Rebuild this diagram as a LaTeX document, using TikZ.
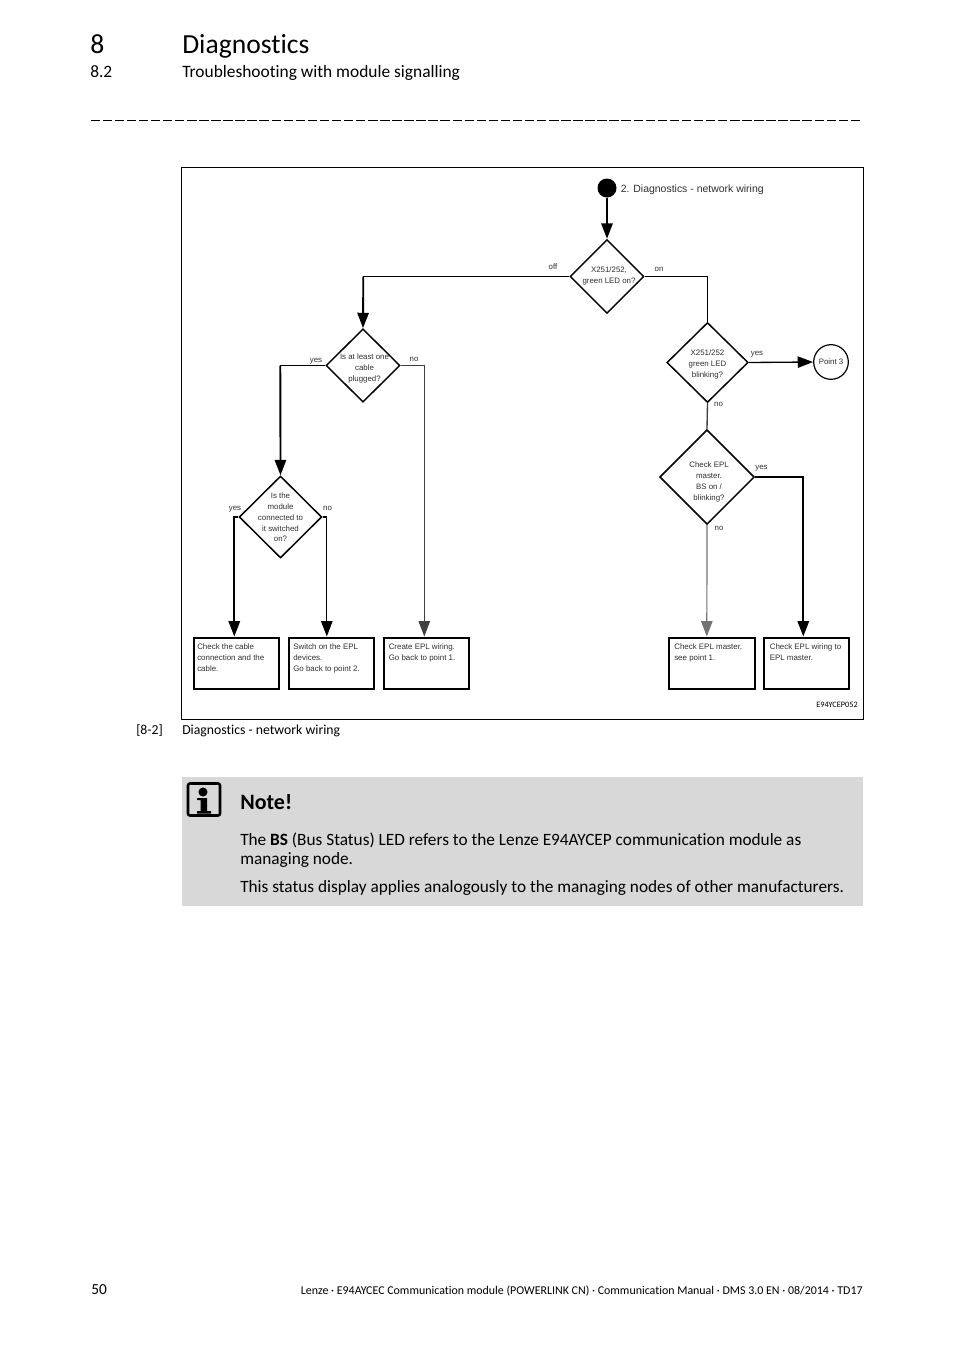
\documentclass[tikz,border=0pt]{standalone}
\usepackage{fontspec}
\setmainfont[Ligatures=NoCommon]{Carlito}
\newfontfamily\arialf{Liberation Sans}
\usetikzlibrary{shapes.geometric,arrows.meta,calc}
\definecolor{notegray}{HTML}{D8D8D8}
\definecolor{lbl}{HTML}{303030}
\newcommand{\dtext}[3]{\smash{\makebox[0pt]{\kern #1\raisebox{#2}{\begin{tabular}{@{}c@{}}#3\end{tabular}}}}}
\tikzset{
 x=0.75pt,y=-0.75pt,
 dia/.style={diamond,draw=black,line width=1.1pt,inner sep=0pt,aspect=1,fill=white,text=lbl,font=\arialf\fontsize{5.9}{8.2}\selectfont},
 procbox/.style={rectangle,draw=black,line width=1.5pt,fill=white,inner sep=0pt,anchor=north west},
 boxtext/.style={anchor=north west,align=left,inner sep=0pt,text=lbl,font=\arialf\fontsize{5.95}{8.2}\selectfont},
 edgelbl/.style={anchor=base,inner sep=0pt,text=lbl,font=\arialf\fontsize{5.9}{8}\selectfont},
 conn/.style={draw=black,line width=1.4pt},
 connthin/.style={draw=black,line width=1pt},
 conngray/.style={draw=black!75,line width=1pt},
 connpale/.style={draw=black!55,line width=0.9pt},
 arr/.style={-{Triangle[length=11.5pt,width=8.5pt]}},
 page/.style={anchor=base west,inner sep=0pt,text=black},
 body/.style={page,font=\fontsize{12.95}{15}\selectfont},
}
\begin{document}
\begin{tikzpicture}
\useasboundingbox[fill=white] (0,0) rectangle (954,1350);
% header
\node[page,font=\fontsize{20.7}{24}\selectfont] (chap) at (90,53) {8};
\node[page,font=\fontsize{20.7}{24}\selectfont] (title) at (182,53) {Diagnostics};
\node[body,font=\fontsize{13.05}{15}\selectfont] (secn) at (90,77) {8.2};
\node[body,font=\fontsize{13.05}{15}\selectfont] (sect) at (182,77) {Troubleshooting with module signalling};
\coordinate (rulea) at (90.5,120.2);
\coordinate (ruleb) at (860,120.2);
\draw[line width=0.9pt,dash pattern=on 7.1pt off 1.95pt] (rulea) -- (ruleb);
% frame
\node[rectangle,draw=black,line width=0.6pt,inner sep=0pt,minimum width=511.5pt,minimum height=414pt,anchor=north west] (frame) at (180.5,166.7) {};
% start
\node[circle,fill=black,inner sep=0pt,minimum size=14.25pt] (start) at (607,188) {};
\node[page,font=\arialf\fontsize{7.85}{10}\selectfont,text=lbl] (starttext) at (620.5,192) {2. Diagnostics - network wiring};
% diamonds
\node[dia,minimum width=55.5pt,minimum height=55.5pt] (d1) at (607,276.5) {\dtext{3pt}{-0.4ex}{X251/252,\\green LED on?}};
\node[dia,minimum width=55.5pt,minimum height=55pt] (d2) at (363,365.5) {\dtext{2.25pt}{-3.8pt}{Is at least one\\cable\\plugged?}};
\node[dia,minimum width=62pt,minimum height=61.5pt] (d3) at (280.5,517) {\dtext{0pt}{-2.2pt}{Is the\\module\\connected to\\it switched\\on?}};
\node[dia,minimum width=61pt,minimum height=60pt] (d4) at (707.5,362.5) {\dtext{0pt}{-2.7pt}{X251/252\\green LED\\blinking?}};
\node[dia,minimum width=71pt,minimum height=71pt] (d5) at (707,477) {\dtext{3pt}{-5pt}{Check EPL\\master.\\BS on /\\blinking?}};
\node[circle,draw=black,line width=0.9pt,inner sep=0pt,minimum size=26pt,text=lbl,font=\arialf\fontsize{5.9}{8}\selectfont] (p3) at (831,362) {Point 3};
% boxes
\node[procbox,minimum width=64pt,minimum height=38.5pt] (b1) at (192.5,636.5) {};
\node[procbox,minimum width=64pt,minimum height=38.5pt] (b2) at (287.5,636.5) {};
\node[procbox,minimum width=64pt,minimum height=38.5pt] (b3) at (382.5,636.5) {};
\node[procbox,minimum width=64.5pt,minimum height=38.5pt] (b4) at (667.8,636.5) {};
\node[procbox,minimum width=64pt,minimum height=38.5pt] (b5) at (763,636.5) {};
\node[boxtext] (t1) at (197,643.8) {Check the cable\\connection and the\\cable.};
\node[boxtext] (t2) at (293,643.8) {Switch on the EPL\\devices.\\Go back to point 2.};
\node[boxtext] (t3) at (388.5,643.8) {Create EPL wiring.\\Go back to point 1.};
\node[boxtext] (t4) at (674,643.8) {Check EPL master,\\see point 1.};
\node[boxtext] (t5) at (769.5,643.8) {Check EPL wiring to\\EPL master.};
% connectors
\draw[conn,arr] (start) -- (d1.north);
\coordinate (d2top) at (363.3,329);
\draw[connthin] (d1.west) -- (d1.west -| d2top);
\draw[conn,arr] (d1.west -| d2top) -- (d2.north);
\draw[connthin] (d1.east) -- (d1.east -| d4.north) -- (d4.north);
\draw[connthin,arr] (d4.east) -- (p3.west);
\draw[conngray] (d4.south) -- (d5.north);
\coordinate (d3top) at (280.3,476);
\draw[connthin] (d2.west) -- (d2.west -| d3top);
\draw[conn,arr] (d2.west -| d3top) -- (d3.north);
\coordinate (b3top) at (424.3,636.5);
\draw[conngray,arr] (d2.east) -- (d2.east -| b3top) -- (b3top);
\coordinate (b1top) at (234.3,636.5);
\draw[conn,arr] (d3.west) -- (d3.west -| b1top) -- (b1top);
\coordinate (b2top) at (326.8,636.5);
\draw[connthin,arr] (d3.east) -- (d3.east -| b2top) -- (b2top);
\coordinate (b4top) at (706.8,636.5);
\draw[connpale,arr] (d5.south) -- (b4top);
\coordinate (b5top) at (803.3,636.5);
\draw[conn,arr] (d5.east) -- (d5.east -| b5top) -- (b5top);
% edge labels
\node[edgelbl] (lo) at (553,269) {off};
\node[edgelbl] (ln) at (659,271) {on};
\node[edgelbl] (ly1) at (316,362) {yes};
\node[edgelbl] (ln1) at (414,361.5) {no};
\node[edgelbl] (ly2) at (235,510) {yes};
\node[edgelbl] (ln2) at (327.5,510) {no};
\node[edgelbl] (ly3) at (757,355) {yes};
\node[edgelbl] (ln3) at (718.5,406) {no};
\node[edgelbl] (ly4) at (761.5,469) {yes};
\node[edgelbl] (ln4) at (719,530) {no};
\node[anchor=base east,inner sep=0pt,font=\fontsize{6.2}{8}\selectfont] (code) at (858,707) {E94YCEP052};
% caption
\node[page,font=\fontsize{10.3}{12}\selectfont] (capn) at (136,734) {[8-2]};
\node[page,font=\fontsize{10.3}{12}\selectfont] (capt) at (182,734) {Diagnostics - network wiring};
% note
\node[rectangle,fill=notegray,inner sep=0pt,minimum width=510.75pt,minimum height=96.75pt,anchor=north west] (note) at (182,777) {};
\node[rectangle,draw=black,line width=1.9pt,rounded corners=1.5pt,inner sep=0pt,minimum width=24pt,minimum height=24pt] (icon) at (204,799.5) {};
\fill (203,792) circle[radius=3.4pt];
\fill (197,798) -- (207,798) -- (207,811) -- (211,811) -- (211,813.5) -- (197,813.5) -- (197,811) -- (200.5,811) -- (200.5,800) -- (197,800) -- cycle;
\node[page,font=\bfseries\fontsize{16.5}{20}\selectfont] (notehead) at (240,809) {Note!};
\node[body] (n1) at (240,845) {The \textbf{BS} (Bus Status) LED refers to the Lenze E94AYCEP communication module as};
\node[body] (n2) at (240,864) {managing node.};
\node[body] (n3) at (240,892) {This status display applies analogously to the managing nodes of other manufacturers.};
% footer
\node[page,font=\fontsize{11.5}{14}\selectfont] (pnum) at (91,1294) {50};
\node[anchor=base east,inner sep=0pt,font=\fontsize{8.95}{11}\selectfont] (foot) at (863,1294) {Lenze · E94AYCEC Communication module (POWERLINK CN) · Communication Manual · DMS 3.0 EN · 08/2014 · TD17};
\end{tikzpicture}
\end{document}
